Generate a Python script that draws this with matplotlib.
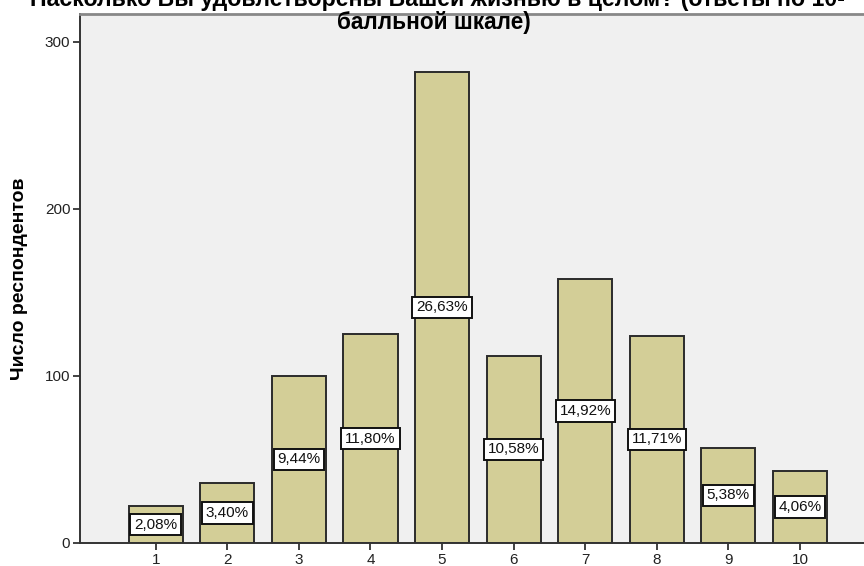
import matplotlib
matplotlib.use("Agg")
import matplotlib.pyplot as plt

plt.rcParams['font.family'] = ['Liberation Sans', 'DejaVu Sans']

categories = ['1', '2', '3', '4', '5', '6', '7', '8', '9', '10']
counts = [22, 36, 100, 125, 282, 112, 158, 124, 57, 43]
percent_labels = ['2,08%', '3,40%', '9,44%', '11,80%', '26,63%',
                  '10,58%', '14,92%', '11,71%', '5,38%', '4,06%']
y_ticks = [0, 100, 200, 300]
title_lines = ['Насколько Вы удовлетворены Вашей жизнью в целом? (ответы по 10-',
               'балльной шкале)']
y_label = 'Число респондентов'

W, H = 864, 566
fig = plt.figure(figsize=(W / 100, H / 100), dpi=100)
ax = fig.add_axes([80 / W, (H - 543) / H, (W - 80) / W + 0.02, (543 - 14) / H])
ax.set_facecolor('#F0F0F0')

x = list(range(1, len(categories) + 1))
ax.bar(x, counts, width=0.755, color='#D3CE97', edgecolor='#2b2b2b', linewidth=1.4, zorder=2)

for xi, c, lab in zip(x, counts, percent_labels):
    ax.text(xi, c / 2, lab, ha='center', va='center', fontsize=11, color='#111111', zorder=3,
            bbox=dict(boxstyle='square,pad=0.25', facecolor='white', edgecolor='#111111', linewidth=1.4))

ax.set_xlim(1 - 75.7 / 71.5, 10 + (W * 1.02 - 800) / 71.5)
ax.set_ylim(0, 316.5)
ax.set_xticks(x)
ax.set_xticklabels(categories, fontsize=11, color='#222222')
ax.set_yticks(y_ticks)
ax.set_yticklabels([str(v) for v in y_ticks], fontsize=11, color='#222222')
ax.tick_params(axis='both', direction='out', length=5, width=1.3, color='#333333', pad=2)

for side in ['left', 'bottom']:
    ax.spines[side].set_color('#333333')
    ax.spines[side].set_linewidth(1.4)
ax.spines['top'].set_color('#888888')
ax.spines['top'].set_linewidth(2.0)
ax.spines['right'].set_visible(False)

fig.text(20 / W, 1 - 279 / H, y_label, rotation=90, ha='center', va='center',
         fontsize=14, fontweight='bold')

fig.text(437 / W, 1 - 6 / H, title_lines[0], ha='center', va='baseline', fontsize=16.7,
         fontweight='bold')
fig.text(434 / W, 1 - 29 / H, title_lines[1], ha='center', va='baseline', fontsize=16.3,
         fontweight='bold')

fig.savefig('out.png', dpi=100)
